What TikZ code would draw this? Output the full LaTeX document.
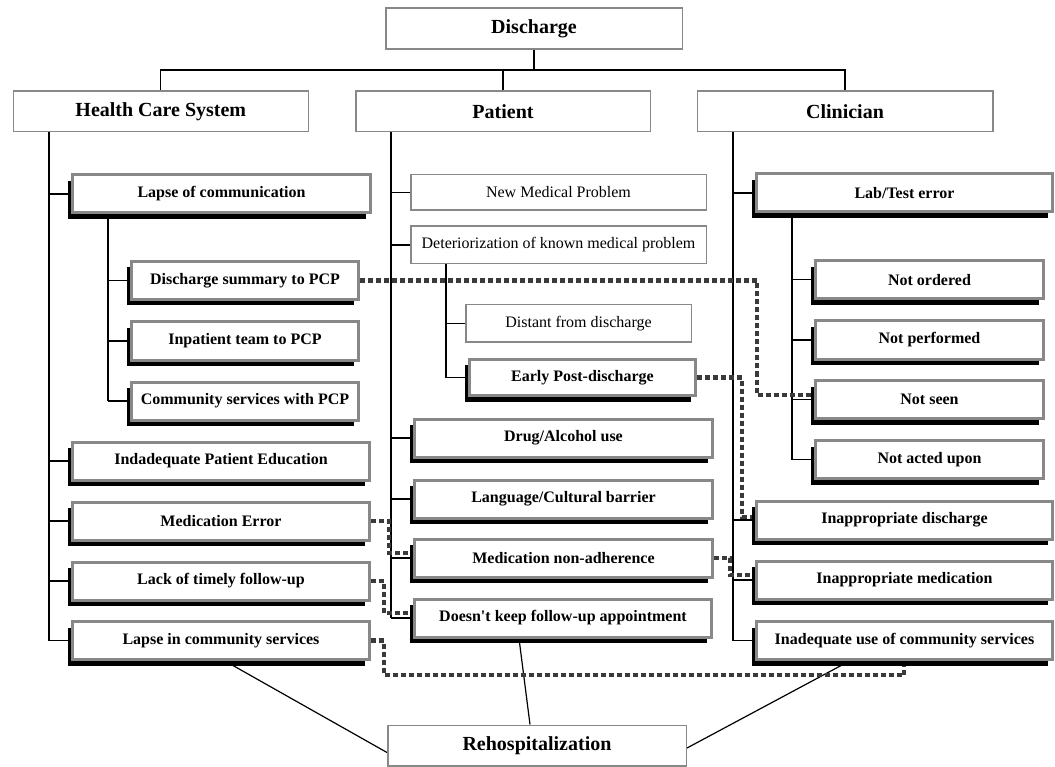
\documentclass[tikz,border=0pt]{standalone}
\usepackage{fontspec}
\setmainfont{Liberation Serif}
\usetikzlibrary{backgrounds,shadows}
\definecolor{boxgray}{HTML}{888888}
\definecolor{dotgray}{HTML}{3A3A3A}
\tikzset{
  hdr/.style={draw=boxgray, line width=1.5pt, fill=white, inner sep=0pt,
    font=\fontsize{20}{24}\selectfont\bfseries, minimum height=40.5pt},
  plainbox/.style={draw=boxgray, line width=1.5pt, fill=white, inner sep=0pt,
    font=\fontsize{16}{19}\selectfont, minimum height=37.5pt},
  sbox/.style={draw=boxgray, line width=3pt, fill=white, inner sep=0pt,
    font=\fontsize{16}{19}\selectfont\bfseries, minimum height=38pt,
    general shadow={fill=black, shadow xshift=-5pt, shadow yshift=-6pt}},
  conn/.style={line width=1.2pt, draw=black},
  dotc/.style={line width=4.5pt, draw=dotgray, dash pattern=on 5pt off 3pt},
}
\begin{document}
\begin{tikzpicture}[x=1pt,y=-1pt]
\useasboundingbox (0,0) rectangle (1055,767);

% headers
\node[hdr, minimum width=296.5pt, minimum height=41pt] (dis) at (534,28.7) {Discharge};
\node[hdr, minimum width=295pt] (hcs) at (160.8,111.5) {Health Care System};
\node[hdr, minimum width=294.5pt] (pat) at (503,111.5) {Patient};
\node[hdr, minimum width=295.5pt] (cli) at (845,111.5) {Clinician};
\node[hdr, minimum width=298.5pt] (reh) at (537,745.5) {Rehospitalization};

% Health care system column
\node[sbox, minimum width=298pt] (lc) at (221.5,194) {Lapse of communication};
\node[sbox, minimum width=227pt] (ds) at (245,280.5) {Discharge summary to PCP};
\node[sbox, minimum width=227pt] (it) at (245,341) {Inpatient team to PCP};
\node[sbox, minimum width=227pt] (cs) at (245,401) {Community services with PCP};
\node[sbox, minimum width=297pt] (ipe) at (221,461) {Indadequate Patient Education};
\node[sbox, minimum width=297pt] (me) at (221,521) {Medication Error};
\node[sbox, minimum width=297pt] (lt) at (221,581) {Lack of timely follow-up};
\node[sbox, minimum width=297pt] (lcs) at (221,640.5) {Lapse in community services};

% Patient column
\node[plainbox, minimum width=295.5pt, minimum height=35.5pt] (nmp) at (558.5,192.5) {New Medical Problem};
\node[plainbox, minimum width=295.5pt] (dk) at (558.5,245) {Deteriorization of known medical problem};
\node[plainbox, minimum width=225.5pt] (dfd) at (578.5,323.5) {Distant from discharge};
\node[sbox, minimum width=226pt, minimum height=36.5pt] (epd) at (582.5,377.5) {Early Post-discharge};
\node[sbox, minimum width=298pt] (da) at (563.5,438) {Drug/Alcohol use};
\node[sbox, minimum width=298pt] (lcb) at (563.5,499) {Language/Cultural barrier};
\node[sbox, minimum width=298pt] (mna) at (563.5,558) {Medication non-adherence};
\node[sbox, minimum width=297pt] (dkf) at (563,618) {Doesn\textquotesingle t keep follow-up appointment};

% Clinician column
\node[sbox, minimum width=296pt] (lte) at (904.5,193) {Lab/Test error};
\node[sbox, minimum width=228pt] (no) at (929.5,279.6) {Not ordered};
\node[sbox, minimum width=228pt] (np) at (929.5,340) {Not performed};
\node[sbox, minimum width=228pt] (ns) at (929.5,399.5) {Not seen};
\node[sbox, minimum width=228pt] (nau) at (929.5,459.7) {Not acted upon};
\node[sbox, minimum width=296pt] (iad) at (904.5,520) {Inappropriate discharge};
\node[sbox, minimum width=296pt] (iam) at (904.5,580) {Inappropriate medication};
\node[sbox, minimum width=296pt] (iuc) at (904.5,640.5) {Inadequate use of community services};

\begin{scope}[on background layer]
  % top bus
  \coordinate (bus) at (0,70);
  \draw[conn] (dis.south) -- (dis.south |- bus);
  \draw[conn] (hcs.north) -- (hcs.north |- bus) -- (cli.north |- bus) -- (cli.north);
  \draw[conn] (pat.north) -- (pat.north |- bus);

  % HCS trunk
  \coordinate (t1) at (49,0);
  \draw[conn] (t1 |- hcs.south) -- (t1 |- lcs.west);
  \foreach \n in {lc,ipe,me,lt,lcs} \draw[conn] (t1 |- \n.west) -- (\n.west);
  \coordinate (t1b) at (108,0);
  \draw[conn] (t1b |- lc.south) -- (t1b |- cs.west);
  \foreach \n in {ds,it,cs} \draw[conn] (t1b |- \n.west) -- (\n.west);

  % Patient trunk
  \coordinate (t2) at (391,0);
  \draw[conn] (t2 |- pat.south) -- (t2 |- dkf.west);
  \foreach \n in {nmp,dk,da,lcb,mna,dkf} \draw[conn] (t2 |- \n.west) -- (\n.west);
  \coordinate (t2b) at (446,0);
  \draw[conn] (t2b |- dk.south) -- (t2b |- epd.west);
  \foreach \n in {dfd,epd} \draw[conn] (t2b |- \n.west) -- (\n.west);

  % Clinician trunk
  \coordinate (t3) at (733,0);
  \draw[conn] (t3 |- cli.south) -- (t3 |- iuc.west);
  \foreach \n in {lte,iad,iam,iuc} \draw[conn] (t3 |- \n.west) -- (\n.west);
  \coordinate (t3b) at (792,0);
  \draw[conn] (t3b |- lte.south) -- (t3b |- nau.west);
  \foreach \n in {no,np,ns,nau} \draw[conn] (t3b |- \n.west) -- (\n.west);

  % to rehospitalization
  \draw[conn] ([xshift=4pt]lcs.south) -- ([yshift=-7pt]reh.west);
  \draw[conn] ([xshift=-44pt]dkf.south) -- ([xshift=-7pt]reh.north);
  \draw[conn] ([xshift=-55pt]iuc.south) -- ([yshift=-2.5pt]reh.east);

  % dotted connectors
  \coordinate (d1) at (757,395);
  \draw[dotc] (ds.east) -| (d1) -- (d1 -| ns.west);
  \coordinate (d2) at (742,517);
  \draw[dotc] (epd.east) -| (d2) -- (d2 -| iad.west);
  \coordinate (d3) at (730,575);
  \draw[dotc] (mna.east) -| (d3) -- (d3 -| iam.west);
  \coordinate (d4) at (389,553);
  \draw[dotc] (me.east) -| (d4) -- (d4 -| mna.west);
  \coordinate (d5) at (384,613);
  \draw[dotc] (lt.east) -| (d5) -- (d5 -| dkf.west);
  \coordinate (d6) at (384,675);
  \coordinate (d7) at (904,675);
  \draw[dotc] (lcs.east) -| (d6) -- (d7) -- (d7 |- iuc.south);
\end{scope}
\end{tikzpicture}
\end{document}
